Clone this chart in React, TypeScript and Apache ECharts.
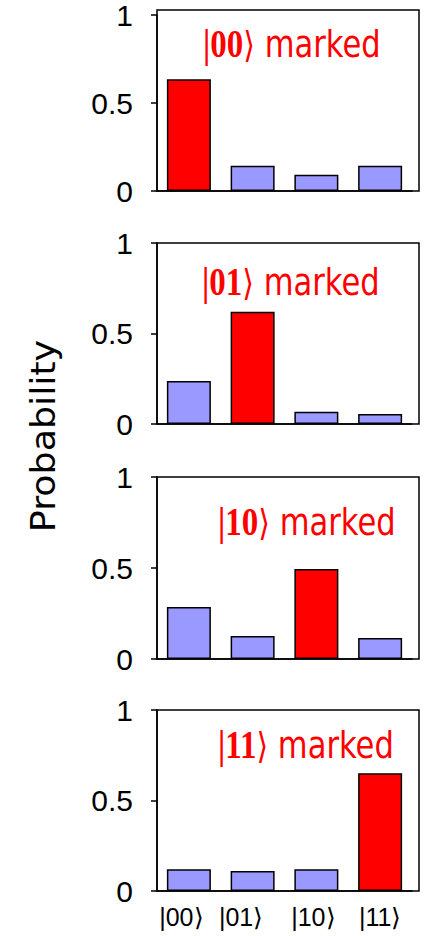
import React, { useEffect, useRef } from 'react';
import * as echarts from 'echarts';

// ---- data ----
const categories = ['|00⟩', '|01⟩', '|10⟩', '|11⟩'];
const marked00 = [0.635, 0.143, 0.093, 0.143];
const marked01 = [0.237, 0.62, 0.068, 0.055];
const marked10 = [0.286, 0.126, 0.495, 0.115];
const marked11 = [0.12, 0.11, 0.12, 0.65];
const panelSeries = [marked00, marked01, marked10, marked11];
const markedIndex = [0, 1, 2, 3];
const panelStates = ['00', '01', '10', '11'];
const yAxisName = 'Probability';

// ---- layout / style ----
const RED = '#ff0000';
const BLUE = '#9999ff';
const panelTops = [10, 243, 477, 710];
const panelHeights = [181, 181, 182, 181];
const titlePos = [
  [203, 64],
  [202, 302],
  [218, 542],
  [218, 765],
];
const labelPadRight = [15, 23, 6, 0];

export default function App() {
  const ref = useRef<HTMLDivElement>(null);
  useEffect(() => {
    document.body.style.margin = '0';
    const chart = echarts.init(ref.current!, null, { renderer: 'svg' });
    const grids: any[] = [];
    const xAxes: any[] = [];
    const yAxes: any[] = [];
    const series: any[] = [];
    const graphics: any[] = [];

    const rich: any = {};
    labelPadRight.forEach((p, i) => {
      rich['l' + i] = {
        fontSize: 25,
        fontFamily: 'Liberation Sans',
        color: '#000',
        padding: [0, p, 0, 0],
      };
    });

    panelSeries.forEach((vals, i) => {
      const top = panelTops[i];
      const height = panelHeights[i];
      // bar grid
      grids.push({ left: 157, right: 15, top, height, show: false });
      // frame grid
      grids.push({
        left: 157,
        right: 8,
        top,
        height,
        show: true,
        borderColor: '#000',
        borderWidth: 1.5,
        backgroundColor: 'transparent',
      });
      const gi = 2 * i;
      xAxes.push({
        gridIndex: gi,
        type: 'category',
        data: categories,
        axisLine: { show: true, lineStyle: { color: '#000', width: 1.5 } },
        axisTick: { show: false },
        axisLabel: {
          show: i === panelSeries.length - 1,
          margin: 13,
          formatter: (v: string, idx: number) => `{l${idx}|${v}}`,
          rich,
        },
      });
      yAxes.push({
        gridIndex: gi,
        type: 'value',
        min: 0,
        max: 1,
        interval: 0.5,
        axisLine: { show: true, lineStyle: { color: '#000', width: 1.5 } },
        axisTick: { show: true, length: 6, lineStyle: { color: '#000', width: 1.5 } },
        splitLine: { show: false },
        axisLabel: {
          fontSize: 30,
          fontFamily: 'Liberation Sans',
          color: '#000',
          margin: 24,
          padding: [20, 0, 0, 0],
        },
      });
      xAxes.push({ gridIndex: gi + 1, type: 'value', show: false, min: 0, max: 1 });
      yAxes.push({ gridIndex: gi + 1, type: 'value', show: false, min: 0, max: 1 });

      series.push({
        type: 'bar',
        xAxisIndex: gi,
        yAxisIndex: gi,
        barWidth: 44,
        data: vals.map((v, j) => ({
          value: v,
          itemStyle: { color: j === markedIndex[i] ? RED : BLUE },
        })),
        itemStyle: { borderColor: '#000', borderWidth: 1.5 },
      });

      graphics.push({
        type: 'text',
        x: titlePos[i][0],
        y: titlePos[i][1],
        scaleY: 1.2,
        style: {
          text: `{k||${panelStates[i]}}{a|⟩}{m| marked}`,
          align: 'left',
          verticalAlign: 'bottom',
          rich: {
            k: {
              fontFamily: 'Liberation Serif',
              fontWeight: 'bold',
              fontSize: 33,
              fill: RED,
              color: RED,
            },
            a: { fontFamily: 'DejaVu Sans', fontSize: 30, fill: RED, color: RED },
            m: { fontFamily: 'DejaVu Sans', fontSize: 30.6, fill: RED, color: RED },
          },
        },
      });
    });

    graphics.push({
      type: 'text',
      x: 43,
      y: 436,
      rotation: Math.PI / 2,
      scaleX: 1.07,
      style: {
        text: yAxisName,
        fontFamily: 'DejaVu Sans',
        fontSize: 34,
        fill: '#000',
        align: 'center',
        verticalAlign: 'middle',
      },
    });

    chart.setOption({
      animation: false,
      grid: grids,
      xAxis: xAxes,
      yAxis: yAxes,
      series,
      graphic: graphics,
    });
    return () => chart.dispose();
  }, []);
  return <div ref={ref} style={{ width: 427, height: 936 }} />;
}
